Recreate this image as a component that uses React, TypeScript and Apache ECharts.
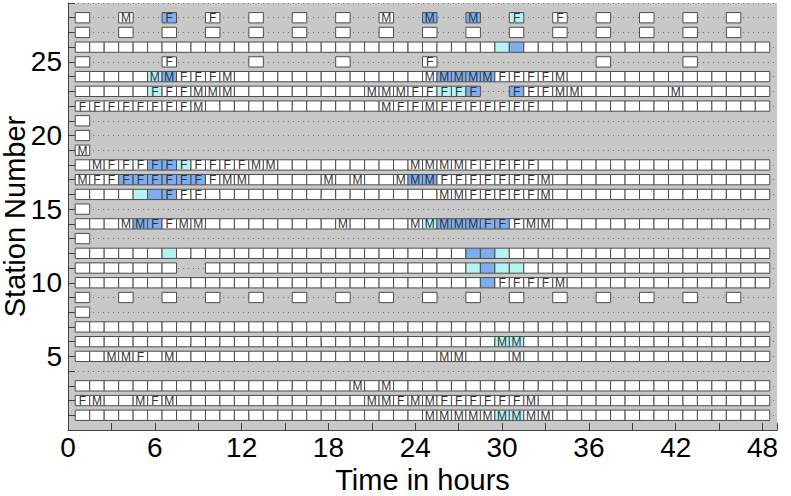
import React, { useEffect, useRef } from "react";
import * as echarts from "echarts";

// Observation slots (hours)
const HOURS_ALL = [
  1, 2, 3, 4, 5, 6, 7, 8, 9, 10, 11, 12, 13, 14, 15, 16, 17, 18, 19, 20, 21, 22, 23, 24,
  25, 26, 27, 28, 29, 30, 31, 32, 33, 34, 35, 36, 37, 38, 39, 40, 41, 42, 43, 44, 45, 46, 47, 48,
];
const HOURS_EVERY3 = [1, 4, 7, 10, 13, 16, 19, 22, 25, 28, 31, 34, 37, 40, 43, 46];
const HOURS_FIRST = [1];
const HOURS_STATION25 = [1, 7, 13, 19, 25, 37, 43];

// Which stations follow which schedule
const fullStations = [1, 2, 3, 5, 6, 7, 10, 11, 12, 14, 16, 17, 18, 22, 23, 24, 26];
const every3Stations = [9, 27, 28];
const firstOnlyStations = [8, 13, 15, 19, 20, 21];
const station25 = 25;

// Missing slots within full rows: [station, hour]
const missingSlots: [number, number][] = [
  [11, 8], [11, 9], [23, 29], [23, 30],
];

// Labels: [station, hour, text]
const labels: [number, number, string][] = [
  [28, 4, "M"], [28, 7, "F"], [28, 10, "F"], [28, 22, "M"], [28, 25, "M"], [28, 28, "M"], [28, 31, "F"], [28, 34, "F"],
  [25, 7, "F"], [25, 25, "F"],
  [24, 6, "M"], [24, 7, "M"], [24, 8, "F"], [24, 9, "F"], [24, 10, "F"], [24, 11, "M"],
  [24, 25, "M"], [24, 26, "M"], [24, 27, "M"], [24, 28, "M"], [24, 29, "M"], [24, 30, "F"], [24, 31, "F"], [24, 32, "F"], [24, 33, "F"], [24, 34, "M"],
  [23, 6, "F"], [23, 7, "F"], [23, 8, "F"], [23, 9, "M"], [23, 10, "M"], [23, 11, "M"],
  [23, 21, "M"], [23, 22, "M"], [23, 23, "M"], [23, 24, "F"], [23, 25, "F"], [23, 26, "F"], [23, 27, "F"], [23, 28, "F"],
  [23, 31, "F"], [23, 32, "F"], [23, 33, "F"], [23, 34, "M"], [23, 35, "M"], [23, 42, "M"],
  [22, 1, "F"], [22, 2, "F"], [22, 3, "F"], [22, 4, "F"], [22, 5, "F"], [22, 6, "F"], [22, 7, "F"], [22, 8, "F"], [22, 9, "M"],
  [22, 22, "M"], [22, 23, "F"], [22, 24, "F"], [22, 25, "M"], [22, 26, "F"], [22, 27, "F"], [22, 28, "F"], [22, 29, "F"], [22, 30, "F"], [22, 31, "F"], [22, 32, "F"],
  [19, 1, "M"],
  [18, 2, "M"], [18, 3, "F"], [18, 4, "F"], [18, 5, "F"], [18, 6, "F"], [18, 7, "F"], [18, 8, "F"], [18, 9, "F"], [18, 10, "F"], [18, 11, "F"], [18, 12, "F"], [18, 13, "M"], [18, 14, "M"],
  [18, 24, "M"], [18, 25, "M"], [18, 26, "M"], [18, 27, "M"], [18, 28, "F"], [18, 29, "F"], [18, 30, "F"], [18, 31, "F"], [18, 32, "F"],
  [17, 1, "M"], [17, 2, "F"], [17, 3, "F"], [17, 4, "F"], [17, 5, "F"], [17, 6, "F"], [17, 7, "F"], [17, 8, "F"], [17, 9, "F"], [17, 10, "F"], [17, 11, "M"], [17, 12, "M"],
  [17, 18, "M"], [17, 20, "M"], [17, 23, "M"], [17, 24, "M"], [17, 25, "M"], [17, 26, "F"], [17, 27, "F"], [17, 28, "F"], [17, 29, "F"], [17, 30, "F"], [17, 31, "F"], [17, 32, "F"], [17, 33, "M"],
  [16, 7, "F"], [16, 8, "F"], [16, 9, "F"],
  [16, 26, "M"], [16, 27, "M"], [16, 28, "F"], [16, 29, "F"], [16, 30, "F"], [16, 31, "F"], [16, 32, "F"], [16, 33, "M"],
  [14, 4, "M"], [14, 5, "M"], [14, 6, "F"], [14, 7, "F"], [14, 8, "M"], [14, 9, "M"], [14, 19, "M"],
  [14, 24, "M"], [14, 25, "M"], [14, 26, "M"], [14, 27, "M"], [14, 28, "M"], [14, 29, "F"], [14, 30, "F"], [14, 31, "F"], [14, 32, "M"], [14, 33, "M"],
  [10, 30, "F"], [10, 31, "F"], [10, 32, "F"], [10, 33, "F"], [10, 34, "M"],
  [6, 30, "M"], [6, 31, "M"],
  [5, 3, "M"], [5, 4, "M"], [5, 5, "F"], [5, 7, "M"], [5, 26, "M"], [5, 27, "M"], [5, 31, "M"],
  [3, 20, "M"], [3, 22, "M"],
  [2, 1, "F"], [2, 2, "M"], [2, 5, "M"], [2, 6, "F"], [2, 7, "M"],
  [2, 21, "M"], [2, 22, "M"], [2, 23, "F"], [2, 24, "M"], [2, 25, "M"], [2, 26, "F"], [2, 27, "F"], [2, 28, "F"], [2, 29, "F"], [2, 30, "F"], [2, 31, "F"], [2, 32, "M"],
  [1, 25, "M"], [1, 26, "M"], [1, 27, "M"], [1, 28, "M"], [1, 29, "M"], [1, 30, "M"], [1, 31, "M"], [1, 32, "M"], [1, 33, "M"],
];

// Highlighted slots: [station, hour, level] (1 = light cyan, 2 = blue)
const highlights: [number, number, number][] = [
  [28, 7, 2], [28, 25, 2], [28, 28, 2], [28, 31, 1],
  [26, 30, 1], [26, 31, 2],
  [24, 6, 1], [24, 7, 2], [24, 26, 2], [24, 27, 2], [24, 28, 2], [24, 29, 2],
  [23, 6, 1], [23, 26, 1], [23, 27, 1], [23, 28, 2], [23, 31, 2],
  [18, 6, 2], [18, 7, 2], [18, 8, 1],
  [17, 4, 2], [17, 5, 2], [17, 6, 2], [17, 7, 2], [17, 8, 2], [17, 9, 2], [17, 24, 2], [17, 25, 2],
  [16, 5, 1], [16, 6, 2], [16, 7, 2],
  [14, 5, 2], [14, 6, 2], [14, 25, 1], [14, 26, 2], [14, 27, 2], [14, 28, 2], [14, 29, 2], [14, 30, 2],
  [12, 7, 1], [12, 28, 2], [12, 29, 2], [12, 30, 1],
  [11, 28, 1], [11, 29, 2], [11, 30, 1], [11, 31, 1],
  [10, 29, 2],
  [6, 30, 1], [6, 31, 1],
  [1, 30, 1], [1, 31, 1],
];

const X_TICK_STEP = 3;
const X_LABEL_STEP = 6;
const Y_LABEL_STEP = 5;

const LEVEL_COLORS = ["#ffffff", "#b6f3f3", "#7eaef0"];
const FONT = "Liberation Sans, Arial, Helvetica, sans-serif";

type Box = { hour: number; station: number; label: string; level: number };

function buildBoxes(): Box[] {
  const key = (s: number, h: number) => s + ":" + h;
  const missing = new Set(missingSlots.map(([s, h]) => key(s, h)));
  const labelMap = new Map(labels.map(([s, h, t]) => [key(s, h), t]));
  const levelMap = new Map(highlights.map(([s, h, l]) => [key(s, h), l]));
  const out: Box[] = [];
  const add = (s: number, hours: number[]) => {
    hours.forEach((h) => {
      if (missing.has(key(s, h))) return;
      out.push({
        hour: h,
        station: s,
        label: labelMap.get(key(s, h)) || "",
        level: levelMap.get(key(s, h)) || 0,
      });
    });
  };
  fullStations.forEach((s) => add(s, HOURS_ALL));
  every3Stations.forEach((s) => add(s, HOURS_EVERY3));
  firstOnlyStations.forEach((s) => add(s, HOURS_FIRST));
  add(station25, HOURS_STATION25);
  return out;
}

export default function App() {
  const ref = useRef<HTMLDivElement>(null);
  useEffect(() => {
    if (!ref.current) return;
    const chart = echarts.init(ref.current, undefined, { renderer: "svg" });
    const boxes = buildBoxes();
    const BOX_H = 0.35;
    chart.setOption({
      animation: false,
      backgroundColor: "#ffffff",
      grid: {
        left: 68,
        right: 14,
        top: 3,
        bottom: 66,
        containLabel: false,
        outerBoundsMode: "none",
        show: true,
        backgroundColor: "#c8c8c8",
        borderWidth: 0,
      },
      xAxis: {
        type: "value",
        min: 0,
        max: 49,
        interval: X_TICK_STEP,
        name: "Time in hours",
        nameLocation: "middle",
        nameGap: 29,
        nameTextStyle: { fontSize: 29, fontFamily: FONT, color: "#000" },
        axisLine: { show: true, lineStyle: { color: "#404040", width: 1 } },
        axisTick: { show: true, inside: true, length: 7, lineStyle: { color: "#404040" } },
        axisLabel: {
          fontSize: 28,
          fontFamily: FONT,
          color: "#000",
          margin: 3,
          formatter: (v: number) => (v % X_LABEL_STEP === 0 ? String(v) : ""),
        },
        splitLine: { show: false },
      },
      yAxis: {
        type: "value",
        min: 0,
        max: 29,
        interval: 1,
        name: "Station Number",
        nameLocation: "middle",
        nameGap: 39,
        nameMoveOverlap: false,
        nameRotate: 90,
        nameTextStyle: { fontSize: 29, lineHeight: 29, fontFamily: FONT, color: "#000" },
        axisLine: { show: true, lineStyle: { color: "#404040", width: 1 } },
        axisTick: { show: true, inside: true, length: 7, lineStyle: { color: "#404040" } },
        axisLabel: {
          fontSize: 28,
          fontFamily: FONT,
          color: "#000",
          margin: 6,
          formatter: (v: number) => (v > 0 && v % Y_LABEL_STEP === 0 ? String(v) : ""),
        },
        splitLine: { show: true, lineStyle: { type: [1, 4], color: "#707070", width: 1 } },
      },
      series: [
        {
          type: "custom",
          data: boxes.map((b) => [b.hour, b.station]),
          encode: { x: 0, y: 1 },
          renderItem: (params: any, api: any) => {
            const b = boxes[params.dataIndex];
            const h = api.value(0);
            const s = api.value(1);
            const p0 = api.coord([h - 0.5, s + BOX_H]);
            const p1 = api.coord([h + 0.5, s - BOX_H]);
            const children: any[] = [
              {
                type: "rect",
                shape: { x: p0[0], y: p0[1], width: p1[0] - p0[0], height: p1[1] - p0[1] },
                style: { fill: LEVEL_COLORS[b.level], stroke: "#4c4c4c", lineWidth: 1 },
              },
            ];
            if (b.label) {
              children.push({
                type: "text",
                style: {
                  text: b.label,
                  x: (p0[0] + p1[0]) / 2,
                  y: (p0[1] + p1[1]) / 2 + 0.5,
                  align: "center",
                  verticalAlign: "middle",
                  fontSize: 12,
                  fontFamily: FONT,
                  fill: "#333333",
                  stroke: "none",
                  lineWidth: 0,
                },
              });
            }
            return { type: "group", children };
          },
        },
      ],
    });
    return () => chart.dispose();
  }, []);
  return (
    <div
      ref={ref}
      style={{ position: "absolute", left: 0, top: 0, width: 791, height: 496 }}
    />
  );
}
